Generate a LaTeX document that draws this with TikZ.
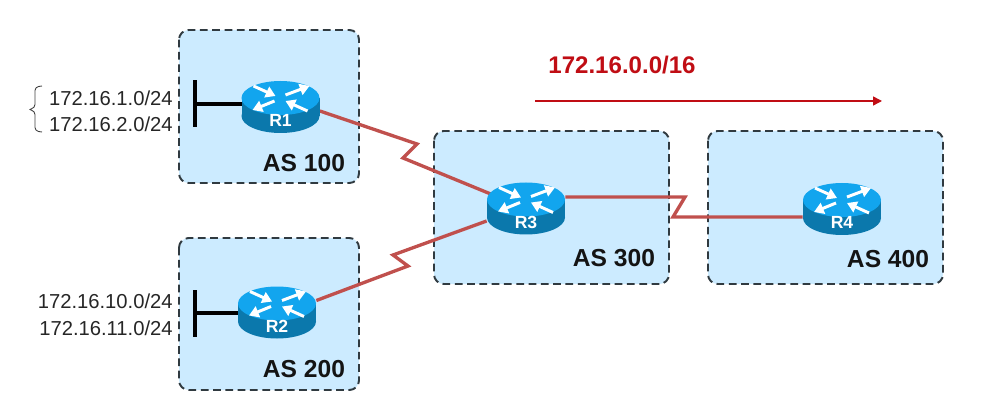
\documentclass[tikz,border=0pt]{standalone}
\usepackage{fontspec}
\setmainfont{Liberation Sans}
\usetikzlibrary{arrows.meta,shapes.geometric}
\definecolor{asfill}{HTML}{CCEBFF}
\definecolor{asdash}{HTML}{303A40}
\definecolor{wanred}{HTML}{C0504D}
\definecolor{routetxt}{HTML}{C00D14}
\definecolor{rtrtop}{HTML}{12A5EE}
\definecolor{rtrbody}{HTML}{0B78AC}
\tikzset{
  asbox/.style={draw=asdash,fill=asfill,dashed,dash pattern=on 4.4pt off 2.6pt,line width=1.1pt,rounded corners=5.5pt},
  astext/.style={font=\fontsize{14}{16}\selectfont\bfseries,text=black!92},
  nettext/.style={font=\fontsize{11.5}{13}\selectfont,text=black!85,anchor=east,inner sep=0pt},
  routerbox/.style={ellipse,minimum width=1.56cm,minimum height=1.04cm,inner sep=0pt},
  routertext/.style={font=\fontsize{10}{12}\selectfont\bfseries,text=white,inner sep=0pt},
  wanlink/.style={wanred,line width=1.9pt,line join=miter},
  lanlink/.style={black,line width=2pt},
  rtrarrow/.style={white,line width=1.7pt,-{Triangle[length=5.5pt,width=6.5pt]}}
}
\begin{document}
\begin{tikzpicture}[x=0.02cm,y=-0.02cm]
  \useasboundingbox (0,0) rectangle (996,408);
  \draw[asbox] (179,30) rectangle (359,183);
  \draw[asbox] (179,238) rectangle (359,390);
  \draw[asbox] (434,131) rectangle (669,284);
  \draw[asbox] (708,131) rectangle (943,284);
  \node[astext] (as100) at (304,163) {AS 100};
  \node[astext] (as200) at (304,369) {AS 200};
  \node[astext] (as300) at (614,258) {AS 300};
  \node[astext] (as400) at (888,259) {AS 400};
  % routers
  \node[routerbox] (R1) at (280.5,107) {};
  \node[routerbox] (R2) at (277,312.5) {};
  \node[routerbox] (R3) at (526,208.5) {};
  \node[routerbox] (R4) at (842,209) {};
  % serial links
  \draw[wanlink] ([yshift=-0.08cm]R1.east) -- (417,144) -- (403,158) -- (R3);
  \draw[wanlink] ([yshift=0.24cm]R2.east) -- (408,266) -- (393,255) -- ([yshift=-0.25cm]R3.west);
  \draw[wanlink] ([yshift=0.23cm]R3.east) -- (685,197) -- (673,217) -- ([yshift=-0.16cm]R4.west);
  % lan stubs
  \coordinate (lan1) at (195,104);
  \coordinate (lan2) at (195,313);
  \draw[lanlink] (R1.center |- lan1) -- (lan1);
  \draw[lanlink] (R2.center |- lan2) -- (lan2);
  \draw[lanlink] ([yshift=0.48cm]lan1) -- ([yshift=-0.46cm]lan1);
  \draw[lanlink] ([yshift=0.46cm]lan2) -- ([yshift=-0.48cm]lan2);
  \foreach \rtr in {R1,R2,R3,R4}{
    \begin{scope}[shift={(\rtr.center)}]
      \fill[rtrbody] (0,9) ellipse [x radius=39,y radius=17];
      \fill[rtrbody] (-39,-9) rectangle (39,9);
      \fill[rtrtop] (0,-9) ellipse [x radius=39,y radius=17];
      \draw[rtrarrow] (-27,-21) -- (-5,-11);
      \draw[rtrarrow] (5,-12) -- (29,-21);
      \draw[rtrarrow] (-6,-6) -- (-28,3);
      \draw[rtrarrow] (27,4) -- (5,-6);
      \node[routertext] (\rtr text) at (0,13.5) {\rtr};
    \end{scope}
  }
  \node[nettext] (net1) at (173,98) {172.16.1.0/24};
  \node[nettext] (net2) at (173,124) {172.16.2.0/24};
  \node[nettext] (net10) at (173,301) {172.16.10.0/24};
  \node[nettext] (net11) at (173,328) {172.16.11.0/24};
  \draw[black!75,line width=0.5pt,rounded corners=2pt] (42,86) -- (35,87) -- (35,108) -- (28,109.5) -- (35,111) -- (35,131) -- (42,132);
  \node[font=\fontsize{13.7}{16}\selectfont\bfseries,text=routetxt] (route) at (622,65) {172.16.0.0/16};
  \coordinate (flowa) at (535,101);
  \coordinate (flowb) at (882,101);
  \draw[routetxt,line width=0.8pt,-{Triangle[length=5pt,width=5pt]}] (flowa) -- (flowb);
\end{tikzpicture}
\end{document}
